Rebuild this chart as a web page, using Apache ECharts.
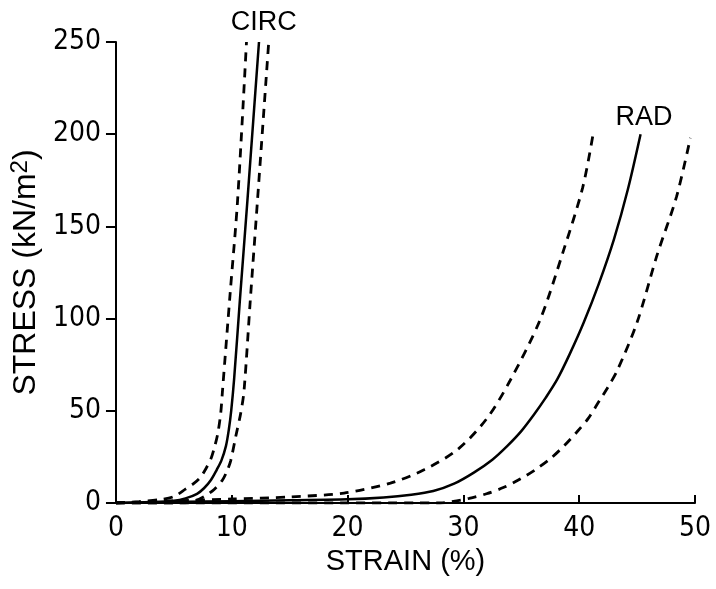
<!DOCTYPE html>
<html>
<head>
<meta charset="utf-8">
<script src="https://cdn.jsdelivr.net/npm/echarts@6/dist/echarts.min.js"></script>
<style>
html,body{margin:0;padding:0;background:#fff;}
#chart{width:716px;height:589px;}
</style>
</head>
<body>
<div id="chart"></div>
<script>
// Strain (%) vs stress (kN/m^2), [strain, stress] pairs
var circMean = [[0,0],[3,0.5],[5,1.2],[6,2.5],[7,5],[7.6,8],[8.2,12.5],[8.7,18],[9.1,23],[9.5,31],[9.75,40],[9.95,50],[10.2,67],[10.7,110],[11.35,164],[11.85,207],[12.35,250]];
var circLow  = [[0,0],[2,0.8],[4,2],[5,3.5],[6,7.5],[6.7,10.5],[7.3,14],[7.8,19],[8.2,24],[8.5,30],[8.8,38],[9.05,49],[9.2,61],[9.85,113],[10.5,164],[11.27,250]];
var circHigh = [[0,0],[5,0],[6.5,0.5],[7.6,3.4],[8.5,7.5],[9.2,12.5],[9.6,17.5],[9.91,23],[10.34,36],[10.78,49],[11.06,61],[11.6,110],[12.22,164],[13.19,250]];
var radMean  = [[0,0],[5,0.5],[10,1],[15,1.5],[20,2],[23.1,3],[25.5,4.5],[27.4,6.5],[29.2,10.5],[30.9,16.5],[32.5,23.5],[33.8,31],[35,39],[36.1,48],[37.1,57],[38.1,67],[39.2,81],[40.4,98],[41.7,119],[43,143],[44.2,170],[45.3,200]];
var radLow   = [[0,0],[5,1.2],[10,2.2],[15,3.3],[19.7,5.4],[23.7,10.8],[26.6,18],[29.5,29],[32,45.6],[34,66],[36.6,99],[38.65,137],[40.3,171],[41.2,200]];
var radHigh  = [[0,0],[28,0],[29,0.8],[30.5,2.5],[32,5],[33.5,8.5],[34.9,13],[36.2,18],[37.5,24],[38.7,31],[39.8,38.5],[40.8,46],[41.7,55],[42.5,63],[43.3,72],[45,98],[46.7,134],[48.4,166],[49.6,198]];

var curveLabels = ['CIRC', 'RAD'];
var curveLabelPos = [[12.76, 260.8], [45.6, 209.3]];

var xTicks = [0,10,20,30,40,50];
var yTicks = [0,50,100,150,200,250];

var numFont = "'Liberation Sans Narrow','DejaVu Sans Condensed','Liberation Sans',sans-serif";
var txtFont = "'Liberation Sans','DejaVu Sans',sans-serif";

var chart = echarts.init(document.getElementById('chart'));

function solid(d){
  return {type:'line', data:d, showSymbol:false, smooth:0.3,
    lineStyle:{color:'#000', width:2.5}, silent:true, animation:false};
}
function dashed(d){
  return {type:'line', data:d, showSymbol:false, smooth:0.3,
    lineStyle:{color:'#000', width:2.8, type:[9,7]}, silent:true, animation:false};
}

chart.setOption({
  backgroundColor:'#fff',
  animation:false,
  grid:{left:115, right:21, top:42, bottom:86},
  xAxis:{
    type:'value', min:xTicks[0], max:xTicks[xTicks.length-1], interval:10,
    name:'STRAIN (%)', nameLocation:'middle', nameGap:42,
    nameTextStyle:{color:'#000', fontFamily:txtFont, fontSize:29},
    axisLine:{lineStyle:{color:'#000', width:2}},
    axisTick:{inside:true, length:8, lineStyle:{color:'#000', width:2}},
    axisLabel:{color:'#000', fontFamily:numFont, fontSize:28, margin:12},
    splitLine:{show:false}
  },
  yAxis:{
    type:'value', min:yTicks[0], max:yTicks[yTicks.length-1], interval:50,
    name:'STRESS (kN/m{sup|2})', nameLocation:'middle', nameGap:70,
    nameTextStyle:{color:'#000', fontFamily:txtFont, fontSize:32,
      rich:{sup:{fontFamily:txtFont, fontSize:24, verticalAlign:'top', lineHeight:36, color:'#000'}}},
    axisLine:{show:true, lineStyle:{color:'#000', width:2}},
    axisTick:{show:true, inside:false, length:10, lineStyle:{color:'#000', width:2}},
    axisLabel:{color:'#000', fontFamily:numFont, fontSize:28, margin:15},
    splitLine:{show:false}
  },
  series:[
    solid(circMean), dashed(circLow), dashed(circHigh),
    solid(radMean), dashed(radLow), dashed(radHigh)
  ]
});

var g = curveLabels.map(function(t, i){
  var p = chart.convertToPixel({gridIndex:0}, curveLabelPos[i]);
  return {type:'text', x:p[0], y:p[1], style:{text:t, fill:'#000', font:'27px ' + txtFont, align:'center', verticalAlign:'middle'}};
});
chart.setOption({graphic:g});
</script>
</body>
</html>
